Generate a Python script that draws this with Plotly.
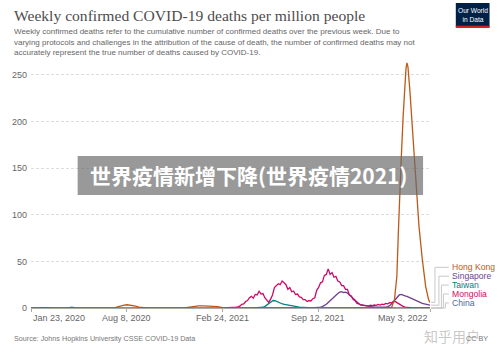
import plotly.graph_objects as go
import pandas as pd

# ---------------- data ----------------
hk_dates = ["2020-01-23", "2020-07-05", "2020-07-17", "2020-07-23", "2020-07-29", "2020-08-04",
            "2020-08-10", "2020-08-16", "2020-08-22", "2020-08-28", "2020-09-04", "2020-09-11",
            "2020-09-20", "2020-12-07", "2020-12-11", "2020-12-19", "2020-12-27", "2021-01-06",
            "2021-01-16", "2021-01-26", "2021-02-05", "2021-02-15", "2021-02-25", "2021-03-07",
            "2021-03-17", "2022-02-05", "2022-02-12", "2022-02-18", "2022-02-23", "2022-02-26",
            "2022-03-01", "2022-03-04", "2022-03-08", "2022-03-11", "2022-03-14", "2022-03-16",
            "2022-03-18", "2022-03-22", "2022-03-27", "2022-03-31", "2022-04-05", "2022-04-10",
            "2022-04-17", "2022-04-24", "2022-04-30", "2022-05-03"]
hk_values = [0, 0, 0.4, 1.5, 2.5, 3.2,
             3.5, 3.1, 2.7, 1.9, 1.0, 0.3,
             0, 0, 0.4, 1.1, 1.8, 2.2,
             2.3, 1.9, 2.2, 1.5, 0.5, 0.1,
             0, 0, 0.5, 9, 34, 80,
             125, 159, 205, 237, 257, 263,
             259, 234, 196, 160, 123, 88,
             52, 23, 9, 6]

# regularly sampled series (every 4 days from a start date)
mongolia_start = "2021-03-01"
mongolia_values = [0, 0, 0.3, 0.2, 0.5, 0.4, 0.8, 1.2, 2, 4,
                   4.5, 7, 8, 11, 12.5, 10.5, 14.5, 14, 18, 15,
                   15.5, 11, 8.5, 6, 9.5, 14, 22, 24, 26, 25,
                   29, 27, 25, 20, 22, 17.5, 18, 14.5, 15, 12,
                   11.5, 9, 9, 7, 8, 7.5, 10, 11, 19, 22,
                   27, 28, 35, 36, 42, 36, 38, 33, 34, 29,
                   28, 24, 24, 20, 20, 14, 13, 9, 8, 5,
                   4.5, 3, 2.8, 1.8, 2.2, 2, 3, 2.6, 3.2, 2.8,
                   3.8, 3.2, 4.2, 3.6, 4.8, 4.5, 5.8, 5.5, 7, 6.8,
                   5.5, 4, 2.8, 1.8, 1, 0.6, 0.4, 0.3, 0.2, 0.2,
                   0.1, 0.1, 0.1, 0.1, 0, 0, 0, 0]

singapore_start = "2021-09-01"
singapore_values = [0.2, 0.3, 0.5, 0.7, 1, 1.5, 2.5, 4, 6, 8,
                    10.5, 12.5, 13.5, 15.5, 17, 17.5, 16.5, 17, 16, 14,
                    12, 9.5, 7.5, 6, 4.5, 3.5, 3, 2.5, 2, 1.8,
                    1.6, 1.3, 1.1, 1, 0.9, 0.8, 0.8, 0.9, 1, 1.5,
                    2.5, 4.5, 7, 9.5, 12, 14, 14.5, 13.5, 13, 12.5,
                    11.5, 10.5, 9.5, 9, 8, 7, 6, 5, 4.5, 3.8,
                    3.3, 3]

taiwan_start = "2021-05-01"
taiwan_values = [0, 0, 0, 0.1, 0.3, 0.8, 2, 3.5, 5.5, 7,
                 8, 7.8, 6.8, 5.8, 5, 4.3, 3.8, 3.3, 3, 2.6,
                 2.2, 1.8, 1.4, 1.1, 0.8, 0.6, 0.4, 0.3, 0.2, 0.1,
                 0]

china_dates = ["2020-01-23", "2020-02-05", "2020-02-15", "2020-02-25", "2020-03-10",
               "2020-04-10", "2020-04-17", "2020-04-24", "2022-05-03"]
china_values = [0.1, 0.3, 0.6, 0.4, 0.1, 0, 0.9, 0, 0]

x_tick_dates = ["2020-01-23", "2020-08-08", "2021-02-24", "2021-09-12", "2022-05-03"]
x_tick_labels = ["Jan 23, 2020", "Aug 8, 2020", "Feb 24, 2021", "Sep 12, 2021", "May 3, 2022"]
y_tick_vals = [0, 50, 100, 150, 200, 250]

series_names = ["Hong Kong", "Singapore", "Taiwan", "Mongolia", "China"]
series_colors = ["#C05917", "#6D3E91", "#00847E", "#CF0A66", "#4C6A9C"]

title_text = "Weekly confirmed COVID-19 deaths per million people"
subtitle_lines = [
    "Weekly confirmed deaths refer to the cumulative number of confirmed deaths over the previous week. Due to",
    "varying protocols and challenges in the attribution of the cause of death, the number of confirmed deaths may not",
    "accurately represent the true number of deaths caused by COVID-19.",
]
source_text = "Source: Johns Hopkins University CSSE COVID-19 Data"
banner_text = "世界疫情新增下降(世界疫情2021)"
watermark_text = "知乎用户"

# ---------------- layout helpers ----------------
W, H = 500, 352
ML, MR, MT, MB = 28, 70, 60, 44
PW = W - ML - MR
PH = H - MT - MB
Y_MAX = 266


def xp(x):
    return (x - ML) / PW


def yp(y):
    return (H - MB - y) / PH


def reg_dates(start, n):
    return pd.date_range(start, periods=n, freq="4D")


color_map = dict(zip(series_names, series_colors))

fig = go.Figure()

traces = [
    ("Taiwan", reg_dates(taiwan_start, len(taiwan_values)), taiwan_values),
    ("Singapore", reg_dates(singapore_start, len(singapore_values)), singapore_values),
    ("Mongolia", reg_dates(mongolia_start, len(mongolia_values)), mongolia_values),
    ("Hong Kong", pd.to_datetime(hk_dates), hk_values),
    ("China", pd.to_datetime(china_dates), china_values),
]
for name, xs, ys in traces:
    fig.add_trace(go.Scatter(x=xs, y=ys, mode="lines", name=name,
                             line=dict(color=color_map[name], width=1.3),
                             showlegend=False, hoverinfo="skip"))

annotations = []
shapes = []

# title / subtitle
annotations.append(dict(text=title_text, xref="paper", yref="paper", x=xp(9), y=yp(15.5),
                        xanchor="left", yanchor="middle", showarrow=False,
                        font=dict(family="Liberation Serif", size=15.6, color="#4d4d4d")))
for i, line in enumerate(subtitle_lines):
    annotations.append(dict(text=line, xref="paper", yref="paper", x=xp(9), y=yp(31.5 + 10.7 * i),
                            xanchor="left", yanchor="middle", showarrow=False,
                            font=dict(family="Liberation Sans", size=8.0, color="#666666")))

# x tick labels
anchors = ["left", "center", "center", "center", "right"]
for d, lab, anc in zip(x_tick_dates, x_tick_labels, anchors):
    annotations.append(dict(text=lab, xref="x", yref="paper", x=d, y=yp(317.5),
                            xanchor=anc, yanchor="middle", showarrow=False,
                            font=dict(family="Liberation Sans", size=9, color="#666666")))

# legend labels with connectors
end_values = [hk_values[-1], singapore_values[-1], 0, 0, 0]
label_py = [267.3, 276.2, 285.1, 294.0, 302.9]
vert_px = [435, 439, 441.5, 443.5, 445.5]
for name, ev, lpy, vx in zip(series_names, end_values, label_py, vert_px):
    y0 = ev / Y_MAX
    y1 = yp(lpy)
    path = f"M {xp(431)},{y0} H {xp(vx)} V {y1} H {xp(449)}"
    shapes.append(dict(type="path", xref="paper", yref="paper", path=path,
                       line=dict(color="#c8c8c8", width=1)))
    annotations.append(dict(text=name, xref="paper", yref="paper", x=xp(450), y=y1,
                            xanchor="left", yanchor="middle", showarrow=False,
                            font=dict(family="Liberation Sans", size=8.6, color=color_map[name])))

# source / license
annotations.append(dict(text=source_text, xref="paper", yref="paper", x=xp(9), y=yp(338.5),
                        xanchor="left", yanchor="middle", showarrow=False,
                        font=dict(family="Liberation Sans", size=7.2, color="#777777")))

# OWID logo
shapes.append(dict(type="rect", xref="paper", yref="paper", x0=xp(456), x1=xp(490),
                   y0=yp(27), y1=yp(3), fillcolor="#002147", line=dict(width=0)))
shapes.append(dict(type="rect", xref="paper", yref="paper", x0=xp(456), x1=xp(490),
                   y0=yp(28), y1=yp(25.8), fillcolor="#ce261e", line=dict(width=0)))
annotations.append(dict(text="Our World<br>in Data", xref="paper", yref="paper", x=xp(473), y=yp(14.5),
                        xanchor="center", yanchor="middle", showarrow=False, align="center",
                        font=dict(family="Liberation Sans", size=6.6, color="#ffffff")))

# watermark banner
shapes.append(dict(type="rect", xref="paper", yref="paper", x0=xp(75), x1=xp(423),
                   y0=yp(195), y1=yp(156), fillcolor="rgba(105,105,105,0.68)",
                   line=dict(width=0), layer="above"))
annotations.append(dict(text=f"<b>{banner_text}</b>", xref="paper", yref="paper", x=xp(247), y=yp(175),
                        xanchor="center", yanchor="middle", showarrow=False,
                        font=dict(family="Noto Sans CJK SC", size=21, color="#ffffff")))
annotations.append(dict(text=watermark_text, xref="paper", yref="paper", x=xp(452), y=yp(335.5),
                        xanchor="center", yanchor="middle", showarrow=False,
                        font=dict(family="Noto Sans CJK SC", size=14, color="rgba(190,190,190,0.85)")))
annotations.append(dict(text="CC BY", xref="paper", yref="paper", x=xp(490), y=yp(338.5),
                        xanchor="right", yanchor="middle", showarrow=False,
                        font=dict(family="Liberation Sans", size=7.2, color="#777777")))

fig.update_layout(
    width=W, height=H,
    margin=dict(l=ML, r=MR, t=MT, b=MB, pad=0),
    paper_bgcolor="#ffffff", plot_bgcolor="#ffffff",
    font=dict(family="Liberation Sans", color="#666666"),
    annotations=annotations, shapes=shapes,
    xaxis=dict(type="date", range=[x_tick_dates[0], x_tick_dates[-1]],
               showgrid=False, zeroline=False, showline=True, linecolor="#aaaaaa", linewidth=1,
               tickmode="array", tickvals=x_tick_dates, showticklabels=False,
               ticks="outside", ticklen=3, tickcolor="#aaaaaa"),
    yaxis=dict(range=[0, Y_MAX], tickmode="array", tickvals=y_tick_vals,
               showgrid=True, gridcolor="#dddddd", griddash="3px,2px", gridwidth=1,
               zeroline=False, showline=False, ticks="",
               tickfont=dict(family="Liberation Sans", size=9, color="#666666"),
               ticklabelstandoff=3),
)

fig.write_html("out.html")
